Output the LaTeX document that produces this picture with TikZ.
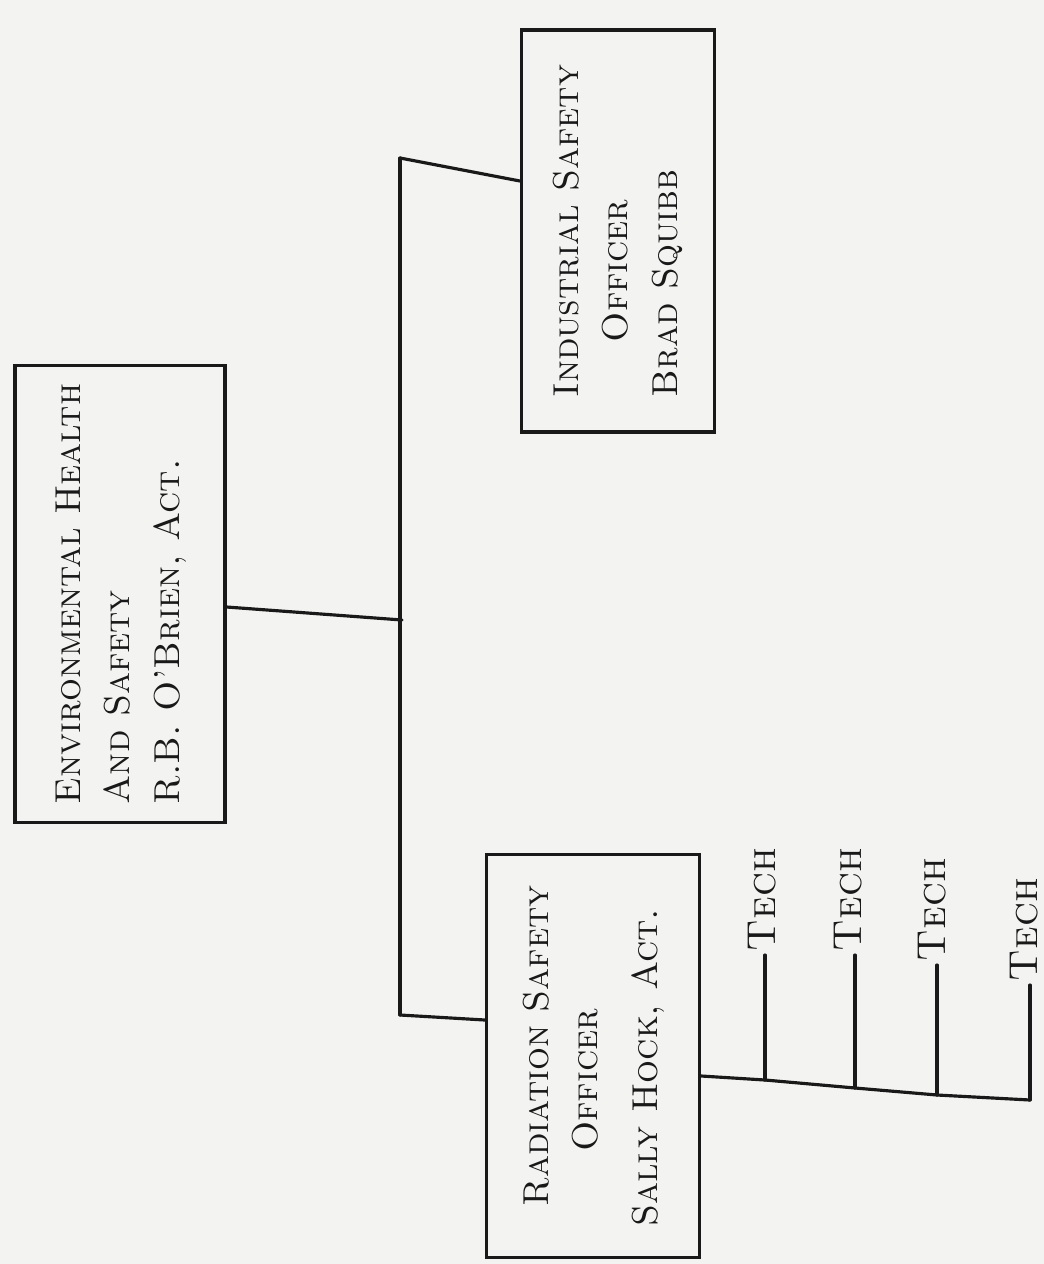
\documentclass[tikz,border=0pt]{standalone}
\usepackage{fontspec}
\usetikzlibrary{calc}
\definecolor{paper}{RGB}{243,243,241}
\definecolor{ink}{RGB}{25,25,25}
\tikzset{
  orgbox/.style={draw=ink, line width=1.8pt, rectangle, inner sep=0pt},
  wire/.style={draw=ink, line width=1.8pt, line join=round, line cap=round},
  techlbl/.style={rotate=90, anchor=west, inner sep=2pt, font=\fontsize{23}{26}\selectfont\scshape, text=ink},
  boxtext/.style={font=\fontsize{20.5}{28}\selectfont\scshape, text=ink},
}
\begin{document}
\begin{tikzpicture}[x=0.02cm,y=-0.02cm]
\fill[paper] (0,0) rectangle (1044,1264);
\useasboundingbox (0,0) rectangle (1044,1264);
% boxes
\node[orgbox, boxtext, minimum width=4.2cm, minimum height=9.14cm] (ehs) at (120,594)
  {\rotatebox{90}{\begin{tabular}{@{}l@{}}Environmental Health\\ And Safety\\ R.B. O'Brien, Act.\end{tabular}}};
\node[orgbox, boxtext, minimum width=3.86cm, minimum height=8.04cm] (iso) at (618,231)
  {\rotatebox{90}{\begin{tabular}{@{}l@{}}Industrial Safety\\ \hspace{1.1cm}Officer\\ Brad Squibb\end{tabular}}};
\node[orgbox, boxtext, minimum width=4.26cm, minimum height=8.06cm] (rso) at (593,1056)
  {\rotatebox{90}{\begin{tabular}{@{}l@{}}\hspace{0.4cm}Radiation Safety\\ \hspace{1.5cm}Officer\\[6pt] Sally Hock, Act.\end{tabular}}};
% junctions
\coordinate (jt) at (400,158);
\coordinate (jm) at (402,620);
\coordinate (jb) at (400,1015);
\draw[wire] ([yshift=-0.26cm]ehs.east) -- (jm);
\draw[wire] (jt) -- (jb);
\draw[wire] (jt) -- ([yshift=1.0cm]iso.west);
\draw[wire] (jb) -- ([yshift=0.72cm]rso.west);
% techs
\coordinate (b1) at (765,1080);
\coordinate (b2) at (855,1088);
\coordinate (b3) at (937,1095);
\coordinate (b4) at (1030,1100);
\draw[wire] ([yshift=-0.4cm]rso.east) -- (b1) -- (b2) -- (b3) -- (b4);
\node[techlbl] (t1) at (762,955) {Tech};
\node[techlbl] (t2) at (848,955) {Tech};
\node[techlbl] (t3) at (932,965) {Tech};
\node[techlbl] (t4) at (1024,985) {Tech};
\draw[wire] (b1) -- (b1 |- t1.west);
\draw[wire] (b2) -- (b2 |- t2.west);
\draw[wire] (b3) -- (b3 |- t3.west);
\draw[wire] (b4) -- (b4 |- t4.west);
\end{tikzpicture}
\end{document}
